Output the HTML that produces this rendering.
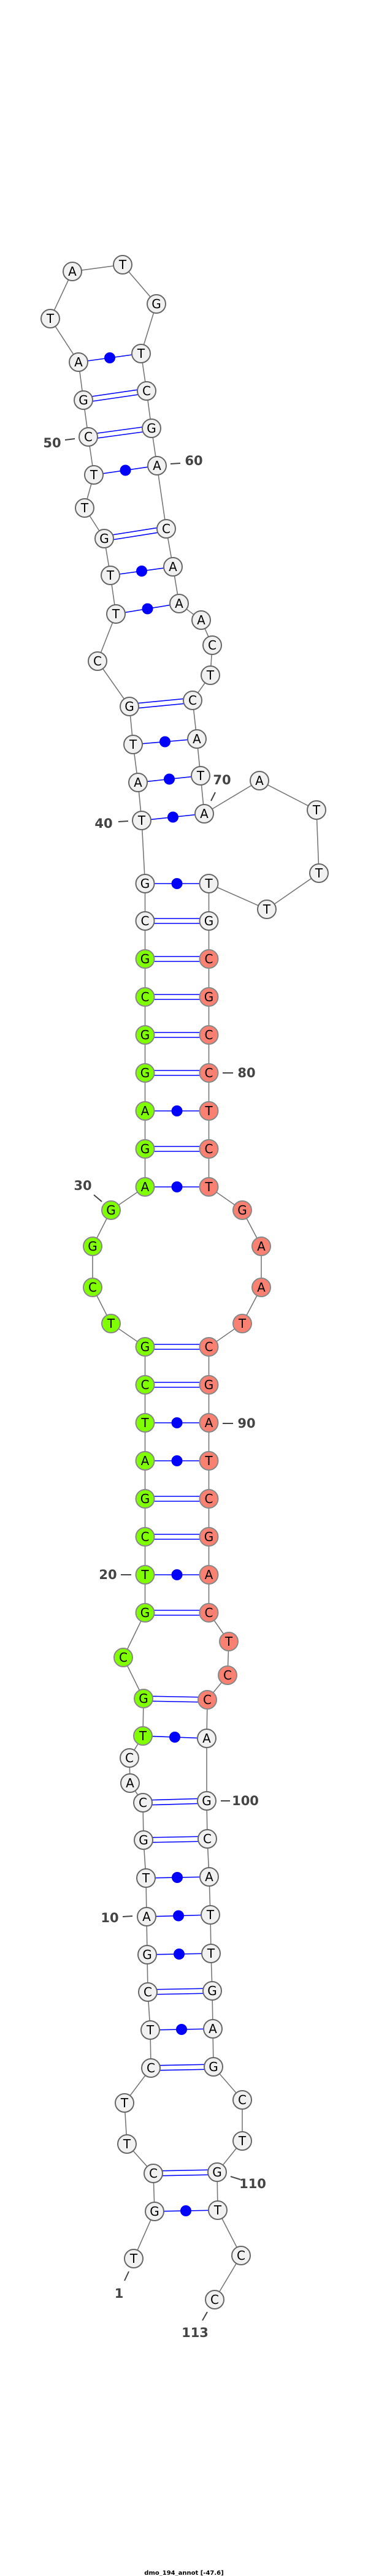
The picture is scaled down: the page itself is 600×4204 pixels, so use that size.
<!DOCTYPE html>
<html><head><meta charset="utf-8"><style>
html,body{margin:0;padding:0;background:#fff;}
svg{display:block;}
.b{stroke:#777;stroke-width:1.6;fill:none;}
.p{stroke:#0000ff;stroke-width:1.6;}
.d{fill:#0000ff;}
.w{fill:#f1f1f1;stroke:#666;stroke-width:2;}
.g{fill:#7fff00;stroke:#888;stroke-width:2;}
.r{fill:#fa8072;stroke:#888;stroke-width:2;}
.n{font-family:"DejaVu Sans","Liberation Sans",sans-serif;font-size:20px;fill:#000;text-anchor:middle;dominant-baseline:central;}
.l{font-family:"DejaVu Sans","Liberation Sans",sans-serif;font-size:21px;font-weight:bold;fill:#444;text-anchor:middle;dominant-baseline:central;}
.t{stroke:#444;stroke-width:2;}
</style></head><body>
<svg width="600" height="4204" viewBox="0 0 600 4204" xmlns="http://www.w3.org/2000/svg">
<polyline class="b" points="218,3686 252,3609 250,3547 207,3499 203,3432 246,3375 245,3313 241,3251 240,3190 239,3128 238,3065 234,3003 233,2942 212,2910 211,2869 233,2833 234,2772 201,2705 236.5,2632 236.5,2570 236.5,2508 236.5,2446 236.5,2384 236.5,2322 236.5,2260 236.5,2198 181,2160 151,2101 151,2034 181,1975 236.5,1937 236.5,1875 236.5,1813 236.5,1751 236.5,1689 236.5,1627 236.5,1565 236.5,1503 236.5,1442 231,1339 225,1277 217,1215 211,1153 159,1079 189,1002 180,939 170,879 138,829 153,775 144,713 136,653 128,591 82,520 118,443 200,432 255,496 230,577 239,638 247,699 256,760 271,863 282,925 292,985 328,1012 346,1053 343,1102 314,1143 321,1206 327,1266 333,1328 423,1274 516,1322 520,1425 435,1484 340.5,1442 340.5,1503 340.5,1565 340.5,1627 340.5,1689 340.5,1751 340.5,1813 340.5,1875 340.5,1937 395,1975 426,2034 426,2101 395,2160 340.5,2198 340.5,2260 340.5,2322 340.5,2384 340.5,2446 340.5,2508 340.5,2570 340.5,2632 373,2679 371,2734 338,2774 337,2837 337,2939 338,3001 341,3063 343,3125 344,3188 346,3249 347,3311 348,3373 395,3427 395,3494 354,3545 355,3607 393,3681 350,3753"/>
<!-- pairs: dots -->
<g>
<line class="p" x1="252" y1="3609" x2="355" y2="3607"/><circle class="d" cx="303" cy="3608" r="9"/>
<line class="p" x1="245" y1="3313" x2="347" y2="3311"/><circle class="d" cx="296" cy="3312" r="9"/>
<line class="p" x1="240" y1="3190" x2="344" y2="3188"/><circle class="d" cx="292" cy="3189" r="9"/>
<line class="p" x1="239" y1="3128" x2="343" y2="3125"/><circle class="d" cx="291" cy="3126.5" r="9"/>
<line class="p" x1="238" y1="3065" x2="341" y2="3063"/><circle class="d" cx="289" cy="3064" r="9"/>
<line class="p" x1="233" y1="2833" x2="337" y2="2837"/><circle class="d" cx="285" cy="2835" r="9"/>
<line class="p" x1="236.5" y1="2570" x2="340.5" y2="2570"/><circle class="d" cx="288.5" cy="2570" r="9"/>
<line class="p" x1="236.5" y1="2384" x2="340.5" y2="2384"/><circle class="d" cx="288.5" cy="2384" r="9"/>
<line class="p" x1="236.5" y1="2322" x2="340.5" y2="2322"/><circle class="d" cx="288.5" cy="2322" r="9"/>
<line class="p" x1="236.5" y1="1937" x2="340.5" y2="1937"/><circle class="d" cx="288.5" cy="1937" r="9"/>
<line class="p" x1="236.5" y1="1813" x2="340.5" y2="1813"/><circle class="d" cx="288.5" cy="1813" r="9"/>
<line class="p" x1="236.5" y1="1442" x2="340.5" y2="1442"/><circle class="d" cx="288.5" cy="1442" r="9"/>
<line class="p" x1="231" y1="1339" x2="333" y2="1328"/><circle class="d" cx="282" cy="1333.5" r="9"/>
<line class="p" x1="225" y1="1277" x2="327" y2="1266"/><circle class="d" cx="276" cy="1271.5" r="9"/>
<line class="p" x1="217" y1="1215" x2="321" y2="1206"/><circle class="d" cx="269" cy="1210.5" r="9"/>
<line class="p" x1="189" y1="1002" x2="292" y2="985"/><circle class="d" cx="240.5" cy="993.5" r="9"/>
<line class="p" x1="180" y1="939" x2="282" y2="925"/><circle class="d" cx="231" cy="932" r="9"/>
<line class="p" x1="153" y1="775" x2="256" y2="760"/><circle class="d" cx="204.5" cy="767.5" r="9"/>
<line class="p" x1="128" y1="591" x2="230" y2="577"/><circle class="d" cx="179" cy="584" r="9"/>
</g>
<!-- pairs: double -->
<g class="p">
<line x1="250" y1="3543" x2="354" y2="3541"/><line x1="250" y1="3551" x2="354" y2="3549"/>
<line x1="246" y1="3371" x2="348" y2="3369"/><line x1="246" y1="3379" x2="348" y2="3377"/>
<line x1="241" y1="3247" x2="346" y2="3245"/><line x1="241" y1="3255" x2="346" y2="3253"/>
<line x1="234" y1="2999" x2="338" y2="2997"/><line x1="234" y1="3007" x2="338" y2="3005"/>
<line x1="233" y1="2938" x2="337" y2="2935"/><line x1="233" y1="2946" x2="337" y2="2943"/>
<line x1="234" y1="2768" x2="338" y2="2770"/><line x1="234" y1="2776" x2="338" y2="2778"/>
<line x1="236.5" y1="2628" x2="340.5" y2="2628"/><line x1="236.5" y1="2636" x2="340.5" y2="2636"/>
<line x1="236.5" y1="2504" x2="340.5" y2="2504"/><line x1="236.5" y1="2512" x2="340.5" y2="2512"/>
<line x1="236.5" y1="2442" x2="340.5" y2="2442"/><line x1="236.5" y1="2450" x2="340.5" y2="2450"/>
<line x1="236.5" y1="2256" x2="340.5" y2="2256"/><line x1="236.5" y1="2264" x2="340.5" y2="2264"/>
<line x1="236.5" y1="2194" x2="340.5" y2="2194"/><line x1="236.5" y1="2202" x2="340.5" y2="2202"/>
<line x1="236.5" y1="1871" x2="340.5" y2="1871"/><line x1="236.5" y1="1879" x2="340.5" y2="1879"/>
<line x1="236.5" y1="1747" x2="340.5" y2="1747"/><line x1="236.5" y1="1755" x2="340.5" y2="1755"/>
<line x1="236.5" y1="1685" x2="340.5" y2="1685"/><line x1="236.5" y1="1693" x2="340.5" y2="1693"/>
<line x1="236.5" y1="1623" x2="340.5" y2="1623"/><line x1="236.5" y1="1631" x2="340.5" y2="1631"/>
<line x1="236.5" y1="1561" x2="340.5" y2="1561"/><line x1="236.5" y1="1569" x2="340.5" y2="1569"/>
<line x1="236.5" y1="1499" x2="340.5" y2="1499"/><line x1="236.5" y1="1507" x2="340.5" y2="1507"/>
<line x1="211" y1="1149" x2="314" y2="1139"/><line x1="211" y1="1157" x2="314" y2="1147"/>
<line x1="170" y1="875" x2="271" y2="859"/><line x1="170" y1="883" x2="271" y2="867"/>
<line x1="144" y1="709" x2="247" y2="695"/><line x1="144" y1="717" x2="247" y2="703"/>
<line x1="136" y1="649" x2="239" y2="634"/><line x1="136" y1="657" x2="239" y2="642"/>
</g>
<!-- nodes -->
<g>
<circle class="w" cx="218" cy="3686" r="15"/><text class="n" x="218" y="3686">T</text>
<circle class="w" cx="252" cy="3609" r="15"/><text class="n" x="252" y="3609">G</text>
<circle class="w" cx="250" cy="3547" r="15"/><text class="n" x="250" y="3547">C</text>
<circle class="w" cx="207" cy="3499" r="15"/><text class="n" x="207" y="3499">T</text>
<circle class="w" cx="203" cy="3432" r="15"/><text class="n" x="203" y="3432">T</text>
<circle class="w" cx="246" cy="3375" r="15"/><text class="n" x="246" y="3375">C</text>
<circle class="w" cx="245" cy="3313" r="15"/><text class="n" x="245" y="3313">T</text>
<circle class="w" cx="241" cy="3251" r="15"/><text class="n" x="241" y="3251">C</text>
<circle class="w" cx="240" cy="3190" r="15"/><text class="n" x="240" y="3190">G</text>
<circle class="w" cx="239" cy="3128" r="15"/><text class="n" x="239" y="3128">A</text>
<circle class="w" cx="238" cy="3065" r="15"/><text class="n" x="238" y="3065">T</text>
<circle class="w" cx="234" cy="3003" r="15"/><text class="n" x="234" y="3003">G</text>
<circle class="w" cx="233" cy="2942" r="15"/><text class="n" x="233" y="2942">C</text>
<circle class="w" cx="212" cy="2910" r="15"/><text class="n" x="212" y="2910">A</text>
<circle class="w" cx="211" cy="2869" r="15"/><text class="n" x="211" y="2869">C</text>
<circle class="g" cx="233" cy="2833" r="15"/><text class="n" x="233" y="2833">T</text>
<circle class="g" cx="234" cy="2772" r="15"/><text class="n" x="234" y="2772">G</text>
<circle class="g" cx="201" cy="2705" r="15"/><text class="n" x="201" y="2705">C</text>
<circle class="g" cx="236.5" cy="2632" r="15"/><text class="n" x="236.5" y="2632">G</text>
<circle class="g" cx="236.5" cy="2570" r="15"/><text class="n" x="236.5" y="2570">T</text>
<circle class="g" cx="236.5" cy="2508" r="15"/><text class="n" x="236.5" y="2508">C</text>
<circle class="g" cx="236.5" cy="2446" r="15"/><text class="n" x="236.5" y="2446">G</text>
<circle class="g" cx="236.5" cy="2384" r="15"/><text class="n" x="236.5" y="2384">A</text>
<circle class="g" cx="236.5" cy="2322" r="15"/><text class="n" x="236.5" y="2322">T</text>
<circle class="g" cx="236.5" cy="2260" r="15"/><text class="n" x="236.5" y="2260">C</text>
<circle class="g" cx="236.5" cy="2198" r="15"/><text class="n" x="236.5" y="2198">G</text>
<circle class="g" cx="181" cy="2160" r="15"/><text class="n" x="181" y="2160">T</text>
<circle class="g" cx="151" cy="2101" r="15"/><text class="n" x="151" y="2101">C</text>
<circle class="g" cx="151" cy="2034" r="15"/><text class="n" x="151" y="2034">G</text>
<circle class="g" cx="181" cy="1975" r="15"/><text class="n" x="181" y="1975">G</text>
<circle class="g" cx="236.5" cy="1937" r="15"/><text class="n" x="236.5" y="1937">A</text>
<circle class="g" cx="236.5" cy="1875" r="15"/><text class="n" x="236.5" y="1875">G</text>
<circle class="g" cx="236.5" cy="1813" r="15"/><text class="n" x="236.5" y="1813">A</text>
<circle class="g" cx="236.5" cy="1751" r="15"/><text class="n" x="236.5" y="1751">G</text>
<circle class="g" cx="236.5" cy="1689" r="15"/><text class="n" x="236.5" y="1689">G</text>
<circle class="g" cx="236.5" cy="1627" r="15"/><text class="n" x="236.5" y="1627">C</text>
<circle class="g" cx="236.5" cy="1565" r="15"/><text class="n" x="236.5" y="1565">G</text>
<circle class="w" cx="236.5" cy="1503" r="15"/><text class="n" x="236.5" y="1503">C</text>
<circle class="w" cx="236.5" cy="1442" r="15"/><text class="n" x="236.5" y="1442">G</text>
<circle class="w" cx="231" cy="1339" r="15"/><text class="n" x="231" y="1339">T</text>
<circle class="w" cx="225" cy="1277" r="15"/><text class="n" x="225" y="1277">A</text>
<circle class="w" cx="217" cy="1215" r="15"/><text class="n" x="217" y="1215">T</text>
<circle class="w" cx="211" cy="1153" r="15"/><text class="n" x="211" y="1153">G</text>
<circle class="w" cx="159" cy="1079" r="15"/><text class="n" x="159" y="1079">C</text>
<circle class="w" cx="189" cy="1002" r="15"/><text class="n" x="189" y="1002">T</text>
<circle class="w" cx="180" cy="939" r="15"/><text class="n" x="180" y="939">T</text>
<circle class="w" cx="170" cy="879" r="15"/><text class="n" x="170" y="879">G</text>
<circle class="w" cx="138" cy="829" r="15"/><text class="n" x="138" y="829">T</text>
<circle class="w" cx="153" cy="775" r="15"/><text class="n" x="153" y="775">T</text>
<circle class="w" cx="144" cy="713" r="15"/><text class="n" x="144" y="713">C</text>
<circle class="w" cx="136" cy="653" r="15"/><text class="n" x="136" y="653">G</text>
<circle class="w" cx="128" cy="591" r="15"/><text class="n" x="128" y="591">A</text>
<circle class="w" cx="82" cy="520" r="15"/><text class="n" x="82" y="520">T</text>
<circle class="w" cx="118" cy="443" r="15"/><text class="n" x="118" y="443">A</text>
<circle class="w" cx="200" cy="432" r="15"/><text class="n" x="200" y="432">T</text>
<circle class="w" cx="255" cy="496" r="15"/><text class="n" x="255" y="496">G</text>
<circle class="w" cx="230" cy="577" r="15"/><text class="n" x="230" y="577">T</text>
<circle class="w" cx="239" cy="638" r="15"/><text class="n" x="239" y="638">C</text>
<circle class="w" cx="247" cy="699" r="15"/><text class="n" x="247" y="699">G</text>
<circle class="w" cx="256" cy="760" r="15"/><text class="n" x="256" y="760">A</text>
<circle class="w" cx="271" cy="863" r="15"/><text class="n" x="271" y="863">C</text>
<circle class="w" cx="282" cy="925" r="15"/><text class="n" x="282" y="925">A</text>
<circle class="w" cx="292" cy="985" r="15"/><text class="n" x="292" y="985">A</text>
<circle class="w" cx="328" cy="1012" r="15"/><text class="n" x="328" y="1012">A</text>
<circle class="w" cx="346" cy="1053" r="15"/><text class="n" x="346" y="1053">C</text>
<circle class="w" cx="343" cy="1102" r="15"/><text class="n" x="343" y="1102">T</text>
<circle class="w" cx="314" cy="1143" r="15"/><text class="n" x="314" y="1143">C</text>
<circle class="w" cx="321" cy="1206" r="15"/><text class="n" x="321" y="1206">A</text>
<circle class="w" cx="327" cy="1266" r="15"/><text class="n" x="327" y="1266">T</text>
<circle class="w" cx="333" cy="1328" r="15"/><text class="n" x="333" y="1328">A</text>
<circle class="w" cx="423" cy="1274" r="15"/><text class="n" x="423" y="1274">A</text>
<circle class="w" cx="516" cy="1322" r="15"/><text class="n" x="516" y="1322">T</text>
<circle class="w" cx="520" cy="1425" r="15"/><text class="n" x="520" y="1425">T</text>
<circle class="w" cx="435" cy="1484" r="15"/><text class="n" x="435" y="1484">T</text>
<circle class="w" cx="340.5" cy="1442" r="15"/><text class="n" x="340.5" y="1442">T</text>
<circle class="w" cx="340.5" cy="1503" r="15"/><text class="n" x="340.5" y="1503">G</text>
<circle class="r" cx="340.5" cy="1565" r="15"/><text class="n" x="340.5" y="1565">C</text>
<circle class="r" cx="340.5" cy="1627" r="15"/><text class="n" x="340.5" y="1627">G</text>
<circle class="r" cx="340.5" cy="1689" r="15"/><text class="n" x="340.5" y="1689">C</text>
<circle class="r" cx="340.5" cy="1751" r="15"/><text class="n" x="340.5" y="1751">C</text>
<circle class="r" cx="340.5" cy="1813" r="15"/><text class="n" x="340.5" y="1813">T</text>
<circle class="r" cx="340.5" cy="1875" r="15"/><text class="n" x="340.5" y="1875">C</text>
<circle class="r" cx="340.5" cy="1937" r="15"/><text class="n" x="340.5" y="1937">T</text>
<circle class="r" cx="395" cy="1975" r="15"/><text class="n" x="395" y="1975">G</text>
<circle class="r" cx="426" cy="2034" r="15"/><text class="n" x="426" y="2034">A</text>
<circle class="r" cx="426" cy="2101" r="15"/><text class="n" x="426" y="2101">A</text>
<circle class="r" cx="395" cy="2160" r="15"/><text class="n" x="395" y="2160">T</text>
<circle class="r" cx="340.5" cy="2198" r="15"/><text class="n" x="340.5" y="2198">C</text>
<circle class="r" cx="340.5" cy="2260" r="15"/><text class="n" x="340.5" y="2260">G</text>
<circle class="r" cx="340.5" cy="2322" r="15"/><text class="n" x="340.5" y="2322">A</text>
<circle class="r" cx="340.5" cy="2384" r="15"/><text class="n" x="340.5" y="2384">T</text>
<circle class="r" cx="340.5" cy="2446" r="15"/><text class="n" x="340.5" y="2446">C</text>
<circle class="r" cx="340.5" cy="2508" r="15"/><text class="n" x="340.5" y="2508">G</text>
<circle class="r" cx="340.5" cy="2570" r="15"/><text class="n" x="340.5" y="2570">A</text>
<circle class="r" cx="340.5" cy="2632" r="15"/><text class="n" x="340.5" y="2632">C</text>
<circle class="r" cx="373" cy="2679" r="15"/><text class="n" x="373" y="2679">T</text>
<circle class="r" cx="371" cy="2734" r="15"/><text class="n" x="371" y="2734">C</text>
<circle class="r" cx="338" cy="2774" r="15"/><text class="n" x="338" y="2774">C</text>
<circle class="w" cx="337" cy="2837" r="15"/><text class="n" x="337" y="2837">A</text>
<circle class="w" cx="337" cy="2939" r="15"/><text class="n" x="337" y="2939">G</text>
<circle class="w" cx="338" cy="3001" r="15"/><text class="n" x="338" y="3001">C</text>
<circle class="w" cx="341" cy="3063" r="15"/><text class="n" x="341" y="3063">A</text>
<circle class="w" cx="343" cy="3125" r="15"/><text class="n" x="343" y="3125">T</text>
<circle class="w" cx="344" cy="3188" r="15"/><text class="n" x="344" y="3188">T</text>
<circle class="w" cx="346" cy="3249" r="15"/><text class="n" x="346" y="3249">G</text>
<circle class="w" cx="347" cy="3311" r="15"/><text class="n" x="347" y="3311">A</text>
<circle class="w" cx="348" cy="3373" r="15"/><text class="n" x="348" y="3373">G</text>
<circle class="w" cx="395" cy="3427" r="15"/><text class="n" x="395" y="3427">C</text>
<circle class="w" cx="395" cy="3494" r="15"/><text class="n" x="395" y="3494">T</text>
<circle class="w" cx="354" cy="3545" r="15"/><text class="n" x="354" y="3545">G</text>
<circle class="w" cx="355" cy="3607" r="15"/><text class="n" x="355" y="3607">T</text>
<circle class="w" cx="393" cy="3681" r="15"/><text class="n" x="393" y="3681">C</text>
<circle class="w" cx="350" cy="3753" r="15"/><text class="n" x="350" y="3753">C</text>
</g>
<!-- labels -->
<g>
<line class="t" x1="106" y1="718" x2="122" y2="716"/><text class="l" x="85" y="723">50</text>
<line class="t" x1="278" y1="757" x2="294" y2="756"/><text class="l" x="316" y="752">60</text>
<line class="t" x1="351" y1="1293" x2="344" y2="1307"/><text class="l" x="362" y="1273">70</text>
<line class="t" x1="193" y1="1341" x2="209" y2="1340"/><text class="l" x="169" y="1344">40</text>
<line class="t" x1="363" y1="1751" x2="380" y2="1751"/><text class="l" x="402" y="1751">80</text>
<line class="t" x1="153" y1="1950" x2="166" y2="1961"/><text class="l" x="135" y="1935">30</text>
<line class="t" x1="363" y1="2323" x2="380" y2="2323"/><text class="l" x="402" y="2323">90</text>
<line class="t" x1="197" y1="2570" x2="214" y2="2570"/><text class="l" x="176" y="2570">20</text>
<line class="t" x1="360" y1="2939" x2="375" y2="2939"/><text class="l" x="400" y="2939">100</text>
<line class="t" x1="200" y1="3128" x2="216" y2="3127"/><text class="l" x="179" y="3130">10</text>
<line class="t" x1="376" y1="3552" x2="392" y2="3557"/><text class="l" x="412" y="3564">110</text>
<line class="t" x1="210" y1="3707" x2="203" y2="3722"/><text class="l" x="194" y="3743">1</text>
<line class="t" x1="338" y1="3773" x2="330" y2="3787"/><text class="l" x="318" y="3807">113</text>
</g>
<text x="300" y="4202" font-family="DejaVu Sans, Liberation Sans, sans-serif" font-size="10" font-weight="bold" fill="#000" text-anchor="middle">dmo_194_annot [-47.6]</text>
</svg>
</body></html>
